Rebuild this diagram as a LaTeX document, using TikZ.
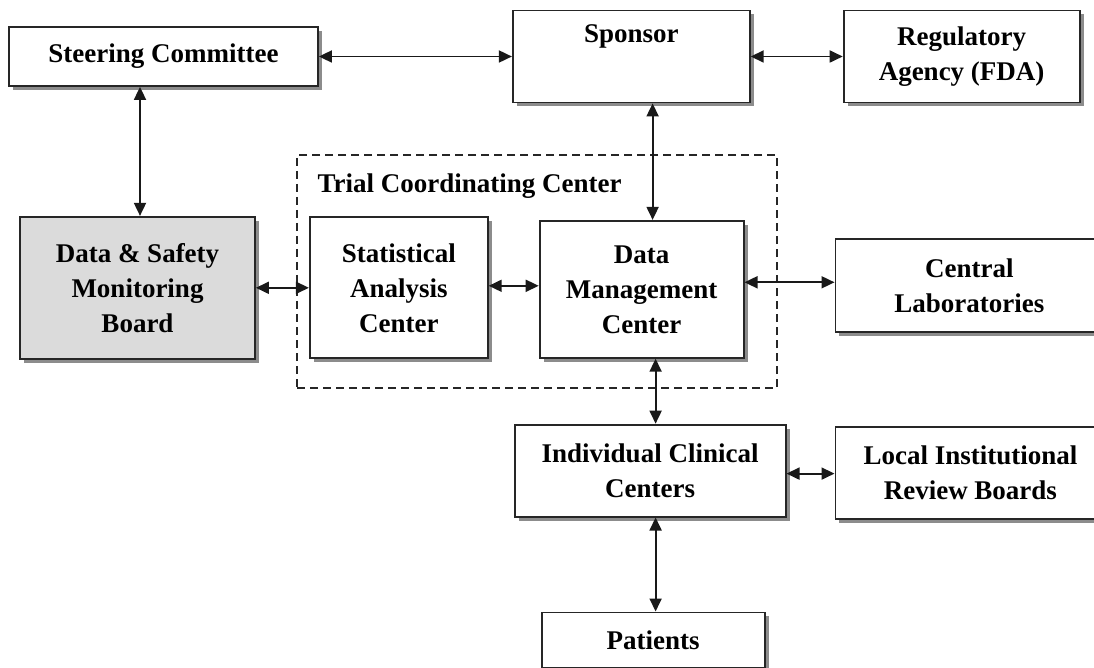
\documentclass[tikz,border=0pt]{standalone}
\usepackage{fontspec}
\setmainfont{Liberation Serif}
\usetikzlibrary{arrows.meta, positioning, shadows, fit}
\tikzset{
    unit/.style={draw, rectangle, inner sep=0pt, align=center, draw=black!85, fill=white, line width=1.8pt,
        font=\bfseries\fontsize{27}{35}\selectfont,
        drop shadow={shadow xshift=4pt, shadow yshift=-4pt, fill=black!45, opacity=1}},
    board/.style={unit, fill=black!14},
    group/.style={draw, rectangle, inner sep=0pt, dash pattern=on 8pt off 5pt, line width=1.3pt, draw=black!85},
    arrow/.style={{Triangle[length=13pt,width=12pt]}-{Triangle[length=13pt,width=12pt]}, line width=1.8pt, draw=black!90}
}
\begin{document}
\begin{tikzpicture}[x=1pt, y=-1pt]
        \fill[white] (0,0) rectangle (1094,668);
        \useasboundingbox (0,0) rectangle (1094,668);

        % Riga superiore
        \node (steer) [unit, minimum width=309pt, minimum height=59pt] at (163.5,56.5) {Steering Committee};
        \node (sponsor) [unit, minimum width=237pt, minimum height=92pt, right=193pt of steer] {Sponsor\\\strut};
        \node (fda) [unit, minimum width=236pt, minimum height=92pt, right=92pt of sponsor] {Regulatory\\Agency (FDA)};

        % Centro di coordinamento
        \coordinate (tccnw) at (297,155);
        \coordinate (tccse) at (777,388);
        \node (tcc) [group, fit=(tccnw)(tccse)] {};
        \node (tcctitle) [below right=19pt and 21pt of tcc.north west, inner sep=0pt, font=\bfseries\fontsize{27}{35}\selectfont] {Trial Coordinating Center};

        % Riga centrale
        \node (dsmb) [board, minimum width=235pt, minimum height=142pt, below=129pt of steer, xshift=-26pt] {Data \& Safety\\Monitoring\\Board};
        \node (sac) [unit, minimum width=178pt, minimum height=141pt, right=53pt of dsmb] {Statistical\\Analysis\\Center};
        \node (dmc) [unit, minimum width=204pt, minimum height=137pt, right=50pt of sac, yshift=-1.5pt] {Data\\Management\\Center};
        \node (lab) [unit, minimum width=268pt, minimum height=93pt, right=90pt of dmc, yshift=4pt] {Central\\Laboratories};

        % Centri clinici
        \node (icc) [unit, minimum width=271pt, minimum height=92pt, below=65pt of dmc, xshift=8.5pt] {Individual Clinical\\Centers};
        \node (lirb) [unit, minimum width=270pt, minimum height=92pt, right=48pt of icc, yshift=-2pt] {Local Institutional\\Review Boards};
        \node (pat) [unit, minimum width=223pt, minimum height=55pt, below=94pt of icc, xshift=3pt] {Patients};

        % Collegamenti
        \draw [arrow] (steer.east) -- (sponsor.west |- steer.east);
        \draw [arrow] (sponsor.east) -- (fda.west);
        \draw [arrow] ([xshift=2.5pt]dsmb.north) -- ([xshift=2.5pt]dsmb.north |- steer.south);
        \draw [arrow] ([xshift=11pt]dmc.north) -- ([xshift=11pt]dmc.north |- sponsor.south);
        \draw [arrow] (dsmb.east) -- (dsmb.east -| sac.west);
        \draw [arrow] ([yshift=2pt]sac.east) -- ([yshift=2pt]sac.east -| dmc.west);
        \draw [arrow] ([yshift=7pt]dmc.east) -- ([yshift=7pt]dmc.east -| lab.west);
        \draw [arrow] ([xshift=14pt]dmc.south) -- ([xshift=14pt]dmc.south |- icc.north);
        \draw [arrow] ([yshift=-3pt]icc.east) -- ([yshift=-3pt]icc.east -| lirb.west);
        \draw [arrow] ([xshift=2.5pt]pat.north) -- ([xshift=2.5pt]pat.north |- icc.south);

    \end{tikzpicture}
\end{document}
